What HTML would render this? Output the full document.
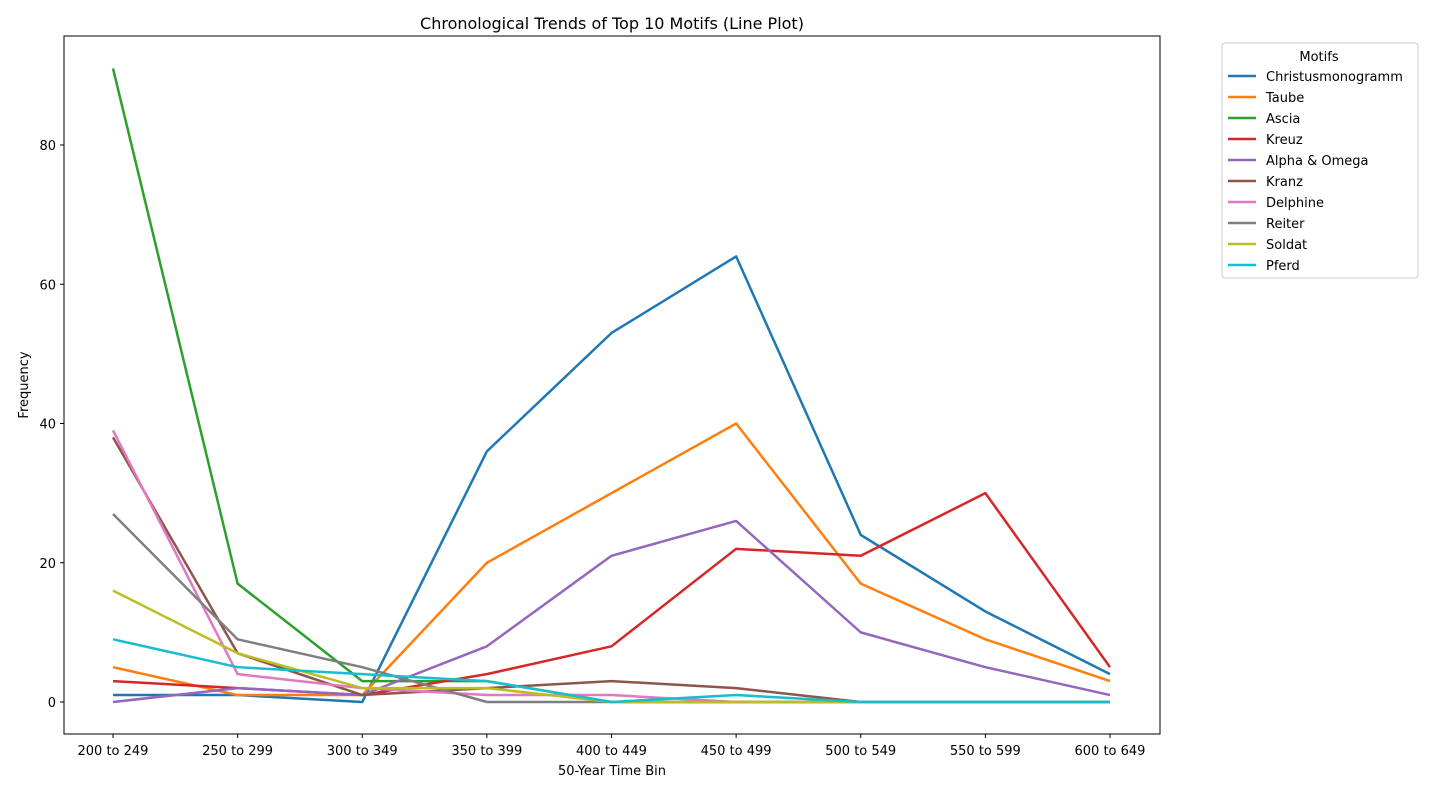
<!DOCTYPE html>
<html><head><meta charset="utf-8"><style>
body{margin:0;background:#fff;font-family:"Liberation Sans","DejaVu Sans",sans-serif}
</style></head><body>
<svg width="1440" height="792" id="chart" font-family="DejaVu Sans, Liberation Sans, sans-serif">
<text x="612" y="29" text-anchor="middle" font-size="16">Chronological Trends of Top 10 Motifs (Line Plot)</text>
<g id="plot"></g>
<rect x="64" y="36" width="1096" height="698" fill="none" stroke="#000" stroke-width="1"/>
<text x="612" y="775" text-anchor="middle" font-size="13">50-Year Time Bin</text>
<text x="28" y="385" text-anchor="middle" font-size="13" transform="rotate(-90 28 385)">Frequency</text>
<g id="legend">
<rect x="1222" y="43" width="196" height="235" rx="3" fill="#fff" stroke="#ccc"/>
<text x="1319" y="61" text-anchor="middle" font-size="13">Motifs</text>
</g>
</svg>
<script>
const categories=["200 to 249","250 to 299","300 to 349","350 to 399","400 to 449","450 to 499","500 to 549","550 to 599","600 to 649"];
const seriesNames=["Christusmonogramm","Taube","Ascia","Kreuz","Alpha & Omega","Kranz","Delphine","Reiter","Soldat","Pferd"];
const christus=[1,1,0,36,53,64,24,13,4];
const taube=[5,1,1,20,30,40,17,9,3];
const ascia=[91,17,3,3,0,0,0,0,0];
const kreuz=[3,2,1,4,8,22,21,30,5];
const alpha=[0,2,1,8,21,26,10,5,1];
const kranz=[38,7,1,2,3,2,0,0,0];
const delphine=[39,4,2,1,1,0,0,0,0];
const reiter=[27,9,5,0,0,0,0,0,0];
const soldat=[16,7,2,2,0,0,0,0,0];
const pferd=[9,5,4,3,0,1,0,0,0];
const yTicks=[0,20,40,60,80];
const seriesValues=[christus,taube,ascia,kreuz,alpha,kranz,delphine,reiter,soldat,pferd];
const colors=["#1f77b4","#ff7f0e","#2ca02c","#d62728","#9467bd","#8c564b","#e377c2","#7f7f7f","#bcbd22","#17becf"];
const NS="http://www.w3.org/2000/svg";
const xs=i=>113+i*(1110-113)/(categories.length-1);
const ys=v=>702-v*(702-145)/80;
const svg=document.getElementById('chart');
const plot=document.getElementById('plot');
function mk(t,a,p){const e=document.createElementNS(NS,t);for(const k in a)e.setAttribute(k,a[k]);(p||svg).appendChild(e);return e;}
categories.forEach((c,i)=>{
 const t=mk('line',{x1:xs(i),x2:xs(i),y1:734,y2:738,stroke:'#000'});
 
 
 const l=mk('text',{x:xs(i),y:755,'text-anchor':'middle','font-size':13});
 l.textContent=c;
 
 
});
yTicks.forEach(v=>{
 const t=mk('line',{x1:60,x2:64,y1:ys(v),y2:ys(v),stroke:'#000'});
 
 
 const l=mk('text',{x:56,y:ys(v)+5,'text-anchor':'end','font-size':13});
 l.textContent=v;
 
 
});
seriesValues.forEach((s,k)=>{
 const p=mk('polyline',{points:s.map((v,i)=>xs(i)+','+ys(v)).join(' '),fill:'none',stroke:colors[k],'stroke-width':2.5,'stroke-linejoin':'round'},plot);
 
 
});
const lg=document.getElementById('legend');
seriesNames.forEach((n,k)=>{
 const y=76+k*21;
 const ln=mk('line',{x1:1228,x2:1256,y1:y,y2:y,stroke:colors[k],'stroke-width':2.5},lg);
 
 
 const t=mk('text',{x:1266,y:y+5,'font-size':13},lg);
 t.textContent=n;
 
 
});
</script>
</body></html>
